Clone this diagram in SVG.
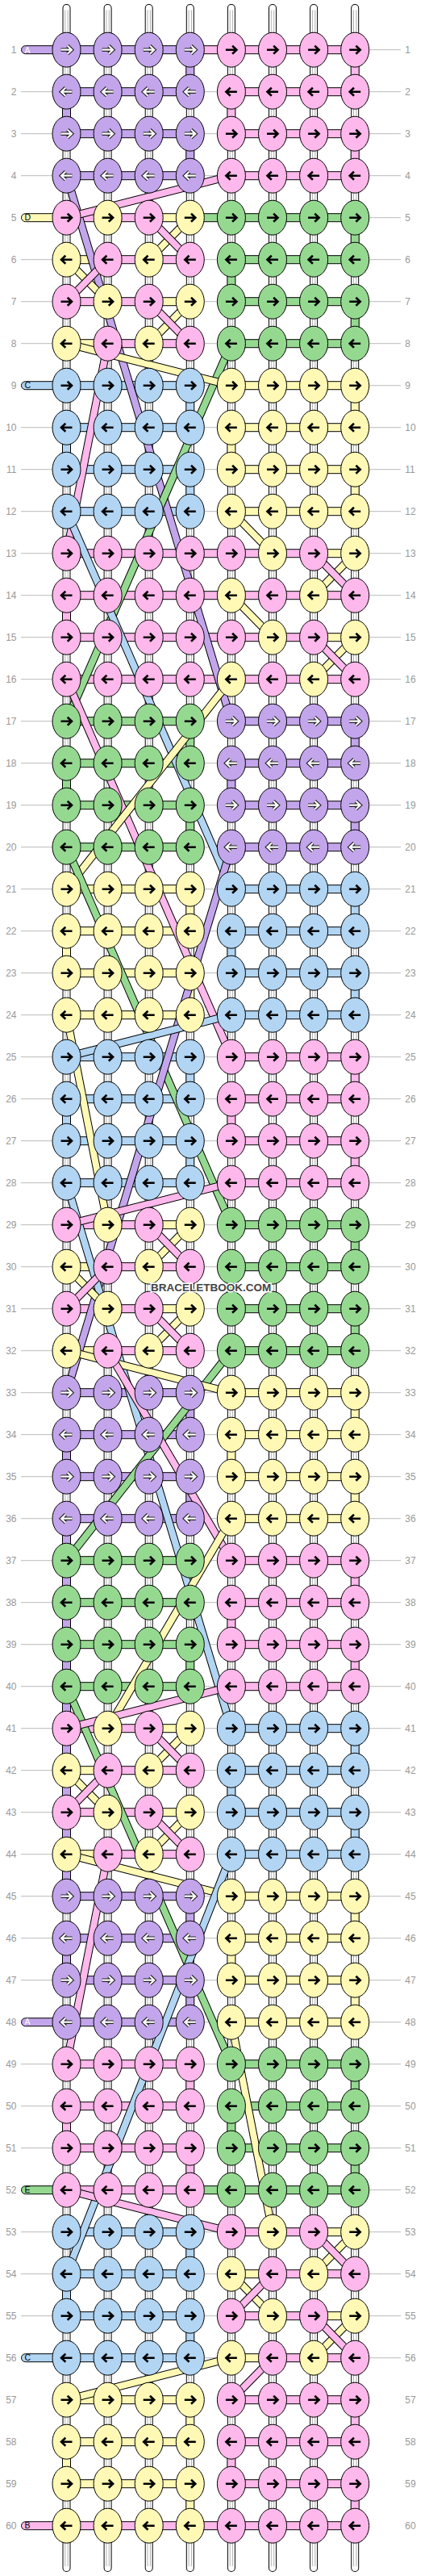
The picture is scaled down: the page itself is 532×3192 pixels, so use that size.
<svg xmlns="http://www.w3.org/2000/svg" width="532" height="3192" viewBox="0 0 532 3192">
<style>
.rl{fill:none;stroke:#bbb;stroke-width:1}
.n{font-family:"Liberation Sans",Arial,sans-serif;font-size:12px;fill:#999}
.nl{text-anchor:end}
.s0{fill:none;stroke:#000;stroke-width:10;stroke-linecap:round}
.s1{fill:none;stroke:#fff;stroke-width:8;stroke-linecap:round}
.s2{fill:none;stroke:#b0b0b0;stroke-width:4.4}
.s3{fill:none;stroke:#fff;stroke-width:2.4}
.c{stroke:#000;stroke-width:1}
.P{fill:#c3a5eb}.K{fill:#ffb8eb}.Y{fill:#fff9b5}.G{fill:#95d991}.B{fill:#b1d5f3}
.o{fill:none;stroke:#000;stroke-width:10}
.dP{fill:none;stroke:#c3a5eb;stroke-width:8}.dK{fill:none;stroke:#ffb8eb;stroke-width:8}.dY{fill:none;stroke:#fff9b5;stroke-width:8}.dG{fill:none;stroke:#95d991;stroke-width:8}.dB{fill:none;stroke:#b1d5f3;stroke-width:8}
.ab{fill:none;stroke:#000;stroke-width:2.6}
.aw0{fill:none;stroke:#222;stroke-width:4.4}
.aw1{fill:none;stroke:#fff;stroke-width:2.2}
.t{font-family:"Liberation Sans",Arial,sans-serif;font-size:10.5px}
.wm{font-family:"Liberation Sans",Arial,sans-serif;font-size:13.5px;font-weight:bold;fill:#444;stroke:#fff;stroke-width:3;paint-order:stroke;text-anchor:middle}
</style>
<defs>
<path id="ar" d="M-7,0H5.5M1.2,-5L6.5,0L1.2,5"/>
<path id="al" d="M7,0H-5.5M-1.2,-5L-6.5,0L-1.2,5"/>
<g id="PR"><ellipse class="c P" rx="17.5" ry="21.5"/><use href="#ar" class="aw0"/><use href="#ar" class="aw1"/></g>
<g id="PL"><ellipse class="c P" rx="17.5" ry="21.5"/><use href="#al" class="aw0"/><use href="#al" class="aw1"/></g>
<g id="KR"><ellipse class="c K" rx="17.5" ry="21.5"/><use href="#ar" class="ab"/></g>
<g id="KL"><ellipse class="c K" rx="17.5" ry="21.5"/><use href="#al" class="ab"/></g>
<g id="YR"><ellipse class="c Y" rx="17.5" ry="21.5"/><use href="#ar" class="ab"/></g>
<g id="YL"><ellipse class="c Y" rx="17.5" ry="21.5"/><use href="#al" class="ab"/></g>
<g id="GR"><ellipse class="c G" rx="17.5" ry="21.5"/><use href="#ar" class="ab"/></g>
<g id="GL"><ellipse class="c G" rx="17.5" ry="21.5"/><use href="#al" class="ab"/></g>
<g id="BR"><ellipse class="c B" rx="17.5" ry="21.5"/><use href="#ar" class="ab"/></g>
<g id="BL"><ellipse class="c B" rx="17.5" ry="21.5"/><use href="#al" class="ab"/></g>
</defs>
<rect width="532" height="3192" fill="#fff"/>
<g transform="translate(82.5 61.7)">
<path id="rowlines" class="rl" d="M-56.5,0h471m-471,52h471m-471,52h471m-471,52h471m-471,52h471m-471,52h471m-471,52h471m-471,52h471m-471,52h471m-471,52h471m-471,52h471m-471,52h471m-471,52h471m-471,52h471m-471,52h471m-471,52h471m-471,52h471m-471,52h471m-471,52h471m-471,52h471m-471,52h471m-471,52h471m-471,52h471m-471,52h471m-471,52h471m-471,52h471m-471,52h471m-471,52h471m-471,52h471m-471,52h471m-471,52h471m-471,52h471m-471,52h471m-471,52h471m-471,52h471m-471,52h471m-471,52h471m-471,52h471m-471,52h471m-471,52h471m-471,52h471m-471,52h471m-471,52h471m-471,52h471m-471,52h471m-471,52h471m-471,52h471m-471,52h471m-471,52h471m-471,52h471m-471,52h471m-471,52h471m-471,52h471m-471,52h471m-471,52h471m-471,52h471"/>
<g id="strands">
<path class="s0" d="M0,-51.7V3120.3M51.1,-51.7V3120.3M102.2,-51.7V3120.3M153.3,-51.7V3120.3M204.4,-51.7V3120.3M255.5,-51.7V3120.3M306.6,-51.7V3120.3M357.7,-51.7V3120.3"/>
<path class="s1" d="M0,-51.7V3120.3M51.1,-51.7V3120.3M102.2,-51.7V3120.3M153.3,-51.7V3120.3M204.4,-51.7V3120.3M255.5,-51.7V3120.3M306.6,-51.7V3120.3M357.7,-51.7V3120.3"/>
<path class="s2" d="M0,-49V3118M51.1,-49V3118M102.2,-49V3118M153.3,-49V3118M204.4,-49V3118M255.5,-49V3118M306.6,-49V3118M357.7,-49V3118"/>
<path class="s3" d="M0,-49V3118M51.1,-49V3118M102.2,-49V3118M153.3,-49V3118M204.4,-49V3118M255.5,-49V3118M306.6,-49V3118M357.7,-49V3118"/>
</g>
<g id="connectors">
<rect class="c P" x="-56" y="-5" width="209.3" height="10" rx="5"/><rect class="c K" x="153.3" y="-5" width="204.4" height="10"/>
<rect class="c P" x="0" y="47" width="153.3" height="10"/><rect class="c K" x="204.4" y="47" width="153.3" height="10"/>
<rect class="c P" x="0" y="99" width="153.3" height="10"/><rect class="c K" x="204.4" y="99" width="153.3" height="10"/>
<rect class="c P" x="0" y="151" width="153.3" height="10"/><rect class="c K" x="204.4" y="151" width="153.3" height="10"/>
<rect class="c Y" x="-56" y="203" width="56" height="10" rx="5"/><rect class="c K" x="0" y="203" width="102.2" height="10"/><rect class="c Y" x="102.2" y="203" width="51.1" height="10"/><rect class="c G" x="153.3" y="203" width="204.4" height="10"/>
<rect class="c Y" x="0" y="255" width="51.1" height="10"/><rect class="c K" x="51.1" y="255" width="102.2" height="10"/><rect class="c G" x="204.4" y="255" width="153.3" height="10"/>
<rect class="c K" x="0" y="307" width="102.2" height="10"/><rect class="c Y" x="102.2" y="307" width="51.1" height="10"/><rect class="c G" x="204.4" y="307" width="153.3" height="10"/>
<rect class="c Y" x="0" y="359" width="51.1" height="10"/><rect class="c K" x="51.1" y="359" width="102.2" height="10"/><rect class="c G" x="204.4" y="359" width="153.3" height="10"/>
<rect class="c B" x="-56" y="411" width="209.3" height="10" rx="5"/><rect class="c Y" x="204.4" y="411" width="153.3" height="10"/>
<rect class="c B" x="0" y="463" width="153.3" height="10"/><rect class="c Y" x="204.4" y="463" width="153.3" height="10"/>
<rect class="c B" x="0" y="515" width="153.3" height="10"/><rect class="c Y" x="204.4" y="515" width="153.3" height="10"/>
<rect class="c B" x="0" y="567" width="153.3" height="10"/><rect class="c Y" x="204.4" y="567" width="153.3" height="10"/>
<rect class="c K" x="0" y="619" width="306.6" height="10"/><rect class="c Y" x="306.6" y="619" width="51.1" height="10"/>
<rect class="c K" x="0" y="671" width="357.7" height="10"/>
<rect class="c K" x="0" y="723" width="306.6" height="10"/><rect class="c Y" x="306.6" y="723" width="51.1" height="10"/>
<rect class="c K" x="0" y="775" width="357.7" height="10"/>
<rect class="c G" x="0" y="827" width="153.3" height="10"/><rect class="c P" x="204.4" y="827" width="153.3" height="10"/>
<rect class="c G" x="0" y="879" width="153.3" height="10"/><rect class="c P" x="204.4" y="879" width="153.3" height="10"/>
<rect class="c G" x="0" y="931" width="153.3" height="10"/><rect class="c P" x="204.4" y="931" width="153.3" height="10"/>
<rect class="c G" x="0" y="983" width="153.3" height="10"/><rect class="c P" x="204.4" y="983" width="153.3" height="10"/>
<rect class="c Y" x="0" y="1035" width="153.3" height="10"/><rect class="c B" x="204.4" y="1035" width="153.3" height="10"/>
<rect class="c Y" x="0" y="1087" width="153.3" height="10"/><rect class="c B" x="204.4" y="1087" width="153.3" height="10"/>
<rect class="c Y" x="0" y="1139" width="153.3" height="10"/><rect class="c B" x="204.4" y="1139" width="153.3" height="10"/>
<rect class="c Y" x="0" y="1191" width="153.3" height="10"/><rect class="c B" x="204.4" y="1191" width="153.3" height="10"/>
<rect class="c B" x="0" y="1243" width="153.3" height="10"/><rect class="c K" x="204.4" y="1243" width="153.3" height="10"/>
<rect class="c B" x="0" y="1295" width="153.3" height="10"/><rect class="c K" x="204.4" y="1295" width="153.3" height="10"/>
<rect class="c B" x="0" y="1347" width="153.3" height="10"/><rect class="c K" x="204.4" y="1347" width="153.3" height="10"/>
<rect class="c B" x="0" y="1399" width="153.3" height="10"/><rect class="c K" x="204.4" y="1399" width="153.3" height="10"/>
<rect class="c K" x="0" y="1451" width="102.2" height="10"/><rect class="c Y" x="102.2" y="1451" width="51.1" height="10"/><rect class="c G" x="204.4" y="1451" width="153.3" height="10"/>
<rect class="c Y" x="0" y="1503" width="51.1" height="10"/><rect class="c K" x="51.1" y="1503" width="102.2" height="10"/><rect class="c G" x="204.4" y="1503" width="153.3" height="10"/>
<rect class="c K" x="0" y="1555" width="102.2" height="10"/><rect class="c Y" x="102.2" y="1555" width="51.1" height="10"/><rect class="c G" x="204.4" y="1555" width="153.3" height="10"/>
<rect class="c Y" x="0" y="1607" width="51.1" height="10"/><rect class="c K" x="51.1" y="1607" width="102.2" height="10"/><rect class="c G" x="204.4" y="1607" width="153.3" height="10"/>
<rect class="c P" x="0" y="1659" width="153.3" height="10"/><rect class="c Y" x="204.4" y="1659" width="153.3" height="10"/>
<rect class="c P" x="0" y="1711" width="153.3" height="10"/><rect class="c Y" x="204.4" y="1711" width="153.3" height="10"/>
<rect class="c P" x="0" y="1763" width="153.3" height="10"/><rect class="c Y" x="204.4" y="1763" width="153.3" height="10"/>
<rect class="c P" x="0" y="1815" width="153.3" height="10"/><rect class="c Y" x="204.4" y="1815" width="153.3" height="10"/>
<rect class="c G" x="0" y="1867" width="153.3" height="10"/><rect class="c K" x="204.4" y="1867" width="153.3" height="10"/>
<rect class="c G" x="0" y="1919" width="153.3" height="10"/><rect class="c K" x="204.4" y="1919" width="153.3" height="10"/>
<rect class="c G" x="0" y="1971" width="153.3" height="10"/><rect class="c K" x="204.4" y="1971" width="153.3" height="10"/>
<rect class="c G" x="0" y="2023" width="153.3" height="10"/><rect class="c K" x="204.4" y="2023" width="153.3" height="10"/>
<rect class="c K" x="0" y="2075" width="102.2" height="10"/><rect class="c Y" x="102.2" y="2075" width="51.1" height="10"/><rect class="c B" x="204.4" y="2075" width="153.3" height="10"/>
<rect class="c Y" x="0" y="2127" width="51.1" height="10"/><rect class="c K" x="51.1" y="2127" width="102.2" height="10"/><rect class="c B" x="204.4" y="2127" width="153.3" height="10"/>
<rect class="c K" x="0" y="2179" width="102.2" height="10"/><rect class="c Y" x="102.2" y="2179" width="51.1" height="10"/><rect class="c B" x="204.4" y="2179" width="153.3" height="10"/>
<rect class="c Y" x="0" y="2231" width="51.1" height="10"/><rect class="c K" x="51.1" y="2231" width="102.2" height="10"/><rect class="c B" x="204.4" y="2231" width="153.3" height="10"/>
<rect class="c P" x="0" y="2283" width="153.3" height="10"/><rect class="c Y" x="204.4" y="2283" width="153.3" height="10"/>
<rect class="c P" x="0" y="2335" width="153.3" height="10"/><rect class="c Y" x="204.4" y="2335" width="153.3" height="10"/>
<rect class="c P" x="0" y="2387" width="153.3" height="10"/><rect class="c Y" x="204.4" y="2387" width="153.3" height="10"/>
<rect class="c P" x="-56" y="2439" width="209.3" height="10" rx="5"/><rect class="c Y" x="204.4" y="2439" width="153.3" height="10"/>
<rect class="c K" x="0" y="2491" width="153.3" height="10"/><rect class="c G" x="204.4" y="2491" width="153.3" height="10"/>
<rect class="c K" x="0" y="2543" width="153.3" height="10"/><rect class="c G" x="204.4" y="2543" width="153.3" height="10"/>
<rect class="c K" x="0" y="2595" width="153.3" height="10"/><rect class="c G" x="204.4" y="2595" width="153.3" height="10"/>
<rect class="c G" x="-56" y="2647" width="56" height="10" rx="5"/><rect class="c K" x="0" y="2647" width="153.3" height="10"/><rect class="c G" x="153.3" y="2647" width="204.4" height="10"/>
<rect class="c B" x="0" y="2699" width="153.3" height="10"/><rect class="c K" x="204.4" y="2699" width="102.2" height="10"/><rect class="c Y" x="306.6" y="2699" width="51.1" height="10"/>
<rect class="c B" x="0" y="2751" width="153.3" height="10"/><rect class="c Y" x="204.4" y="2751" width="51.1" height="10"/><rect class="c K" x="255.5" y="2751" width="102.2" height="10"/>
<rect class="c B" x="0" y="2803" width="153.3" height="10"/><rect class="c K" x="204.4" y="2803" width="102.2" height="10"/><rect class="c Y" x="306.6" y="2803" width="51.1" height="10"/>
<rect class="c B" x="-56" y="2855" width="209.3" height="10" rx="5"/><rect class="c Y" x="204.4" y="2855" width="51.1" height="10"/><rect class="c K" x="255.5" y="2855" width="102.2" height="10"/>
<rect class="c Y" x="0" y="2907" width="153.3" height="10"/><rect class="c K" x="204.4" y="2907" width="153.3" height="10"/>
<rect class="c Y" x="0" y="2959" width="153.3" height="10"/><rect class="c K" x="204.4" y="2959" width="153.3" height="10"/>
<rect class="c Y" x="0" y="3011" width="153.3" height="10"/><rect class="c K" x="204.4" y="3011" width="153.3" height="10"/>
<rect class="c K" x="-56" y="3063" width="413.7" height="10" rx="5"/>
<rect class="c P" x="148.3" y="0" width="10" height="52"/><rect class="c P" x="-5" y="52" width="10" height="52"/><rect class="c P" x="148.3" y="104" width="10" height="52"/>
<rect class="c K" x="352.7" y="0" width="10" height="52"/><rect class="c K" x="199.4" y="52" width="10" height="52"/><rect class="c K" x="352.7" y="104" width="10" height="52"/>
<rect class="c G" x="352.7" y="208" width="10" height="52"/><rect class="c G" x="199.4" y="260" width="10" height="52"/><rect class="c G" x="352.7" y="312" width="10" height="52"/>
<rect class="c B" x="148.3" y="416" width="10" height="52"/><rect class="c B" x="-5" y="468" width="10" height="52"/><rect class="c B" x="148.3" y="520" width="10" height="52"/>
<rect class="c Y" x="352.7" y="416" width="10" height="52"/><rect class="c Y" x="199.4" y="468" width="10" height="52"/><rect class="c Y" x="352.7" y="520" width="10" height="52"/>
<rect class="c K" x="-5" y="676" width="10" height="52"/>
<rect class="c G" x="148.3" y="832" width="10" height="52"/><rect class="c G" x="-5" y="884" width="10" height="52"/><rect class="c G" x="148.3" y="936" width="10" height="52"/>
<rect class="c P" x="352.7" y="832" width="10" height="52"/><rect class="c P" x="199.4" y="884" width="10" height="52"/><rect class="c P" x="352.7" y="936" width="10" height="52"/>
<rect class="c Y" x="148.3" y="1040" width="10" height="52"/><rect class="c Y" x="-5" y="1092" width="10" height="52"/><rect class="c Y" x="148.3" y="1144" width="10" height="52"/>
<rect class="c B" x="352.7" y="1040" width="10" height="52"/><rect class="c B" x="199.4" y="1092" width="10" height="52"/><rect class="c B" x="352.7" y="1144" width="10" height="52"/>
<rect class="c B" x="148.3" y="1248" width="10" height="52"/><rect class="c B" x="-5" y="1300" width="10" height="52"/><rect class="c B" x="148.3" y="1352" width="10" height="52"/>
<rect class="c K" x="352.7" y="1248" width="10" height="52"/><rect class="c K" x="199.4" y="1300" width="10" height="52"/><rect class="c K" x="352.7" y="1352" width="10" height="52"/>
<rect class="c G" x="352.7" y="1456" width="10" height="52"/><rect class="c G" x="199.4" y="1508" width="10" height="52"/><rect class="c G" x="352.7" y="1560" width="10" height="52"/>
<rect class="c P" x="148.3" y="1664" width="10" height="52"/><rect class="c P" x="-5" y="1716" width="10" height="52"/><rect class="c P" x="148.3" y="1768" width="10" height="52"/>
<rect class="c Y" x="352.7" y="1664" width="10" height="52"/><rect class="c Y" x="199.4" y="1716" width="10" height="52"/><rect class="c Y" x="352.7" y="1768" width="10" height="52"/>
<rect class="c P" x="-5" y="1820" width="10" height="468"/>
<rect class="c G" x="148.3" y="1872" width="10" height="52"/><rect class="c G" x="148.3" y="1976" width="10" height="52"/>
<rect class="c K" x="352.7" y="1872" width="10" height="52"/><rect class="c K" x="199.4" y="1924" width="10" height="52"/><rect class="c K" x="352.7" y="1976" width="10" height="52"/>
<rect class="c B" x="352.7" y="2080" width="10" height="52"/><rect class="c B" x="199.4" y="2132" width="10" height="52"/><rect class="c B" x="352.7" y="2184" width="10" height="52"/>
<rect class="c P" x="148.3" y="2288" width="10" height="52"/><rect class="c P" x="-5" y="2340" width="10" height="52"/><rect class="c P" x="148.3" y="2392" width="10" height="52"/>
<rect class="c Y" x="352.7" y="2288" width="10" height="52"/><rect class="c Y" x="199.4" y="2340" width="10" height="52"/><rect class="c Y" x="352.7" y="2392" width="10" height="52"/>
<rect class="c K" x="148.3" y="2496" width="10" height="52"/><rect class="c K" x="-5" y="2548" width="10" height="52"/><rect class="c K" x="148.3" y="2600" width="10" height="52"/>
<rect class="c G" x="352.7" y="2496" width="10" height="52"/><rect class="c G" x="199.4" y="2548" width="10" height="52"/><rect class="c G" x="352.7" y="2600" width="10" height="52"/>
<rect class="c B" x="148.3" y="2704" width="10" height="52"/><rect class="c B" x="-5" y="2756" width="10" height="52"/><rect class="c B" x="148.3" y="2808" width="10" height="52"/>
<rect class="c Y" x="148.3" y="2912" width="10" height="52"/><rect class="c Y" x="-5" y="2964" width="10" height="52"/><rect class="c Y" x="148.3" y="3016" width="10" height="52"/>
<rect class="c K" x="352.7" y="2912" width="10" height="52"/><rect class="c K" x="199.4" y="2964" width="10" height="52"/><rect class="c K" x="352.7" y="3016" width="10" height="52"/>
<path class="o" d="M0,156L204.4,832"/><path class="dP" d="M0,156L204.4,832"/>
<path class="o" d="M204.4,156L0,208"/><path class="dK" d="M204.4,156L0,208"/>
<path class="o" d="M204.4,364L0,832"/><path class="dG" d="M204.4,364L0,832"/>
<path class="o" d="M0,364L204.4,416"/><path class="dY" d="M0,364L204.4,416"/>
<path class="o" d="M51.1,364L0,624"/><path class="dK" d="M51.1,364L0,624"/>
<path class="o" d="M0,572L204.4,1040"/><path class="dB" d="M0,572L204.4,1040"/>
<path class="o" d="M204.4,572L255.5,624"/><path class="dY" d="M204.4,572L255.5,624"/>
<path class="o" d="M0,780L204.4,1248"/><path class="dK" d="M0,780L204.4,1248"/>
<path class="o" d="M204.4,780L0,1040"/><path class="dY" d="M204.4,780L0,1040"/>
<path class="o" d="M0,988L204.4,1456"/><path class="dG" d="M0,988L204.4,1456"/>
<path class="o" d="M204.4,988L0,1664"/><path class="dP" d="M204.4,988L0,1664"/>
<path class="o" d="M0,1196L51.1,1456"/><path class="dY" d="M0,1196L51.1,1456"/>
<path class="o" d="M204.4,1196L0,1248"/><path class="dB" d="M204.4,1196L0,1248"/>
<path class="o" d="M0,1404L204.4,2080"/><path class="dB" d="M0,1404L204.4,2080"/>
<path class="o" d="M204.4,1404L0,1456"/><path class="dK" d="M204.4,1404L0,1456"/>
<path class="o" d="M204.4,1612L0,1872"/><path class="dG" d="M204.4,1612L0,1872"/>
<path class="o" d="M0,1612L204.4,1664"/><path class="dY" d="M0,1612L204.4,1664"/>
<path class="o" d="M51.1,1612L204.4,1872"/><path class="dK" d="M51.1,1612L204.4,1872"/>
<path class="o" d="M204.4,1820L51.1,2080"/><path class="dY" d="M204.4,1820L51.1,2080"/>
<path class="o" d="M0,2028L204.4,2496"/><path class="dG" d="M0,2028L204.4,2496"/>
<path class="o" d="M204.4,2028L0,2080"/><path class="dK" d="M204.4,2028L0,2080"/>
<path class="o" d="M0,2236L204.4,2288"/><path class="dY" d="M0,2236L204.4,2288"/>
<path class="o" d="M51.1,2236L0,2496"/><path class="dK" d="M51.1,2236L0,2496"/>
<path class="o" d="M204.4,2236L0,2756"/><path class="dB" d="M204.4,2236L0,2756"/>
<path class="o" d="M204.4,2444L255.5,2704"/><path class="dY" d="M204.4,2444L255.5,2704"/>
<path class="o" d="M0,2652L204.4,2704"/><path class="dK" d="M0,2652L204.4,2704"/>
<path class="o" d="M204.4,2860L0,2912"/><path class="dY" d="M204.4,2860L0,2912"/>
<path class="o" d="M255.5,2860L204.4,2912"/><path class="dK" d="M255.5,2860L204.4,2912"/>
<path class="o" d="M153.3,208L102.2,260"/><path class="dY" d="M153.3,208L102.2,260"/><path class="o" d="M102.2,208L153.3,260"/><path class="dK" d="M102.2,208L153.3,260"/>
<path class="o" d="M0,260L51.1,312"/><path class="dY" d="M0,260L51.1,312"/><path class="o" d="M51.1,260L0,312"/><path class="dK" d="M51.1,260L0,312"/>
<path class="o" d="M153.3,312L102.2,364"/><path class="dY" d="M153.3,312L102.2,364"/><path class="o" d="M102.2,312L153.3,364"/><path class="dK" d="M102.2,312L153.3,364"/>
<path class="o" d="M153.3,1456L102.2,1508"/><path class="dY" d="M153.3,1456L102.2,1508"/><path class="o" d="M102.2,1456L153.3,1508"/><path class="dK" d="M102.2,1456L153.3,1508"/>
<path class="o" d="M0,1508L51.1,1560"/><path class="dY" d="M0,1508L51.1,1560"/><path class="o" d="M51.1,1508L0,1560"/><path class="dK" d="M51.1,1508L0,1560"/>
<path class="o" d="M153.3,1560L102.2,1612"/><path class="dY" d="M153.3,1560L102.2,1612"/><path class="o" d="M102.2,1560L153.3,1612"/><path class="dK" d="M102.2,1560L153.3,1612"/>
<path class="o" d="M153.3,2080L102.2,2132"/><path class="dY" d="M153.3,2080L102.2,2132"/><path class="o" d="M102.2,2080L153.3,2132"/><path class="dK" d="M102.2,2080L153.3,2132"/>
<path class="o" d="M0,2132L51.1,2184"/><path class="dY" d="M0,2132L51.1,2184"/><path class="o" d="M51.1,2132L0,2184"/><path class="dK" d="M51.1,2132L0,2184"/>
<path class="o" d="M153.3,2184L102.2,2236"/><path class="dY" d="M153.3,2184L102.2,2236"/><path class="o" d="M102.2,2184L153.3,2236"/><path class="dK" d="M102.2,2184L153.3,2236"/>
<path class="o" d="M357.7,624L306.6,676"/><path class="dY" d="M357.7,624L306.6,676"/><path class="o" d="M306.6,624L357.7,676"/><path class="dK" d="M306.6,624L357.7,676"/>
<path class="o" d="M204.4,676L255.5,728"/><path class="dY" d="M204.4,676L255.5,728"/>
<path class="o" d="M357.7,728L306.6,780"/><path class="dY" d="M357.7,728L306.6,780"/><path class="o" d="M306.6,728L357.7,780"/><path class="dK" d="M306.6,728L357.7,780"/>
<path class="o" d="M357.7,2704L306.6,2756"/><path class="dY" d="M357.7,2704L306.6,2756"/><path class="o" d="M306.6,2704L357.7,2756"/><path class="dK" d="M306.6,2704L357.7,2756"/>
<path class="o" d="M204.4,2756L255.5,2808"/><path class="dY" d="M204.4,2756L255.5,2808"/><path class="o" d="M255.5,2756L204.4,2808"/><path class="dK" d="M255.5,2756L204.4,2808"/>
<path class="o" d="M357.7,2808L306.6,2860"/><path class="dY" d="M357.7,2808L306.6,2860"/><path class="o" d="M306.6,2808L357.7,2860"/><path class="dK" d="M306.6,2808L357.7,2860"/>
</g>
<g id="nodes">
<g id="r1"><use id="n1-1" href="#PR"/><use id="n1-2" href="#PR" x="51.1"/><use id="n1-3" href="#PR" x="102.2"/><use id="n1-4" href="#PR" x="153.3"/><use id="n1-5" href="#KR" x="204.4"/><use id="n1-6" href="#KR" x="255.5"/><use id="n1-7" href="#KR" x="306.6"/><use id="n1-8" href="#KR" x="357.7"/></g>
<g id="r2" transform="translate(0,52)"><use id="n2-1" href="#PL"/><use id="n2-2" href="#PL" x="51.1"/><use id="n2-3" href="#PL" x="102.2"/><use id="n2-4" href="#PL" x="153.3"/><use id="n2-5" href="#KL" x="204.4"/><use id="n2-6" href="#KL" x="255.5"/><use id="n2-7" href="#KL" x="306.6"/><use id="n2-8" href="#KL" x="357.7"/></g>
<g id="r3" transform="translate(0,104)"><use id="n3-1" href="#PR"/><use id="n3-2" href="#PR" x="51.1"/><use id="n3-3" href="#PR" x="102.2"/><use id="n3-4" href="#PR" x="153.3"/><use id="n3-5" href="#KR" x="204.4"/><use id="n3-6" href="#KR" x="255.5"/><use id="n3-7" href="#KR" x="306.6"/><use id="n3-8" href="#KR" x="357.7"/></g>
<g id="r4" transform="translate(0,156)"><use id="n4-1" href="#PL"/><use id="n4-2" href="#PL" x="51.1"/><use id="n4-3" href="#PL" x="102.2"/><use id="n4-4" href="#PL" x="153.3"/><use id="n4-5" href="#KL" x="204.4"/><use id="n4-6" href="#KL" x="255.5"/><use id="n4-7" href="#KL" x="306.6"/><use id="n4-8" href="#KL" x="357.7"/></g>
<g id="r5" transform="translate(0,208)"><use id="n5-1" href="#KR"/><use id="n5-2" href="#YR" x="51.1"/><use id="n5-3" href="#KR" x="102.2"/><use id="n5-4" href="#YR" x="153.3"/><use id="n5-5" href="#GR" x="204.4"/><use id="n5-6" href="#GR" x="255.5"/><use id="n5-7" href="#GR" x="306.6"/><use id="n5-8" href="#GR" x="357.7"/></g>
<g id="r6" transform="translate(0,260)"><use id="n6-1" href="#YL"/><use id="n6-2" href="#KL" x="51.1"/><use id="n6-3" href="#YL" x="102.2"/><use id="n6-4" href="#KL" x="153.3"/><use id="n6-5" href="#GL" x="204.4"/><use id="n6-6" href="#GL" x="255.5"/><use id="n6-7" href="#GL" x="306.6"/><use id="n6-8" href="#GL" x="357.7"/></g>
<g id="r7" transform="translate(0,312)"><use id="n7-1" href="#KR"/><use id="n7-2" href="#YR" x="51.1"/><use id="n7-3" href="#KR" x="102.2"/><use id="n7-4" href="#YR" x="153.3"/><use id="n7-5" href="#GR" x="204.4"/><use id="n7-6" href="#GR" x="255.5"/><use id="n7-7" href="#GR" x="306.6"/><use id="n7-8" href="#GR" x="357.7"/></g>
<g id="r8" transform="translate(0,364)"><use id="n8-1" href="#YL"/><use id="n8-2" href="#KL" x="51.1"/><use id="n8-3" href="#YL" x="102.2"/><use id="n8-4" href="#KL" x="153.3"/><use id="n8-5" href="#GL" x="204.4"/><use id="n8-6" href="#GL" x="255.5"/><use id="n8-7" href="#GL" x="306.6"/><use id="n8-8" href="#GL" x="357.7"/></g>
<g id="r9" transform="translate(0,416)"><use id="n9-1" href="#BR"/><use id="n9-2" href="#BR" x="51.1"/><use id="n9-3" href="#BR" x="102.2"/><use id="n9-4" href="#BR" x="153.3"/><use id="n9-5" href="#YR" x="204.4"/><use id="n9-6" href="#YR" x="255.5"/><use id="n9-7" href="#YR" x="306.6"/><use id="n9-8" href="#YR" x="357.7"/></g>
<g id="r10" transform="translate(0,468)"><use id="n10-1" href="#BL"/><use id="n10-2" href="#BL" x="51.1"/><use id="n10-3" href="#BL" x="102.2"/><use id="n10-4" href="#BL" x="153.3"/><use id="n10-5" href="#YL" x="204.4"/><use id="n10-6" href="#YL" x="255.5"/><use id="n10-7" href="#YL" x="306.6"/><use id="n10-8" href="#YL" x="357.7"/></g>
<g id="r11" transform="translate(0,520)"><use id="n11-1" href="#BR"/><use id="n11-2" href="#BR" x="51.1"/><use id="n11-3" href="#BR" x="102.2"/><use id="n11-4" href="#BR" x="153.3"/><use id="n11-5" href="#YR" x="204.4"/><use id="n11-6" href="#YR" x="255.5"/><use id="n11-7" href="#YR" x="306.6"/><use id="n11-8" href="#YR" x="357.7"/></g>
<g id="r12" transform="translate(0,572)"><use id="n12-1" href="#BL"/><use id="n12-2" href="#BL" x="51.1"/><use id="n12-3" href="#BL" x="102.2"/><use id="n12-4" href="#BL" x="153.3"/><use id="n12-5" href="#YL" x="204.4"/><use id="n12-6" href="#YL" x="255.5"/><use id="n12-7" href="#YL" x="306.6"/><use id="n12-8" href="#YL" x="357.7"/></g>
<g id="r13" transform="translate(0,624)"><use id="n13-1" href="#KR"/><use id="n13-2" href="#KR" x="51.1"/><use id="n13-3" href="#KR" x="102.2"/><use id="n13-4" href="#KR" x="153.3"/><use id="n13-5" href="#KR" x="204.4"/><use id="n13-6" href="#YR" x="255.5"/><use id="n13-7" href="#KR" x="306.6"/><use id="n13-8" href="#YR" x="357.7"/></g>
<g id="r14" transform="translate(0,676)"><use id="n14-1" href="#KL"/><use id="n14-2" href="#KL" x="51.1"/><use id="n14-3" href="#KL" x="102.2"/><use id="n14-4" href="#KL" x="153.3"/><use id="n14-5" href="#YL" x="204.4"/><use id="n14-6" href="#KL" x="255.5"/><use id="n14-7" href="#YL" x="306.6"/><use id="n14-8" href="#KL" x="357.7"/></g>
<g id="r15" transform="translate(0,728)"><use id="n15-1" href="#KR"/><use id="n15-2" href="#KR" x="51.1"/><use id="n15-3" href="#KR" x="102.2"/><use id="n15-4" href="#KR" x="153.3"/><use id="n15-5" href="#KR" x="204.4"/><use id="n15-6" href="#YR" x="255.5"/><use id="n15-7" href="#KR" x="306.6"/><use id="n15-8" href="#YR" x="357.7"/></g>
<g id="r16" transform="translate(0,780)"><use id="n16-1" href="#KL"/><use id="n16-2" href="#KL" x="51.1"/><use id="n16-3" href="#KL" x="102.2"/><use id="n16-4" href="#KL" x="153.3"/><use id="n16-5" href="#YL" x="204.4"/><use id="n16-6" href="#KL" x="255.5"/><use id="n16-7" href="#YL" x="306.6"/><use id="n16-8" href="#KL" x="357.7"/></g>
<g id="r17" transform="translate(0,832)"><use id="n17-1" href="#GR"/><use id="n17-2" href="#GR" x="51.1"/><use id="n17-3" href="#GR" x="102.2"/><use id="n17-4" href="#GR" x="153.3"/><use id="n17-5" href="#PR" x="204.4"/><use id="n17-6" href="#PR" x="255.5"/><use id="n17-7" href="#PR" x="306.6"/><use id="n17-8" href="#PR" x="357.7"/></g>
<g id="r18" transform="translate(0,884)"><use id="n18-1" href="#GL"/><use id="n18-2" href="#GL" x="51.1"/><use id="n18-3" href="#GL" x="102.2"/><use id="n18-4" href="#GL" x="153.3"/><use id="n18-5" href="#PL" x="204.4"/><use id="n18-6" href="#PL" x="255.5"/><use id="n18-7" href="#PL" x="306.6"/><use id="n18-8" href="#PL" x="357.7"/></g>
<g id="r19" transform="translate(0,936)"><use id="n19-1" href="#GR"/><use id="n19-2" href="#GR" x="51.1"/><use id="n19-3" href="#GR" x="102.2"/><use id="n19-4" href="#GR" x="153.3"/><use id="n19-5" href="#PR" x="204.4"/><use id="n19-6" href="#PR" x="255.5"/><use id="n19-7" href="#PR" x="306.6"/><use id="n19-8" href="#PR" x="357.7"/></g>
<g id="r20" transform="translate(0,988)"><use id="n20-1" href="#GL"/><use id="n20-2" href="#GL" x="51.1"/><use id="n20-3" href="#GL" x="102.2"/><use id="n20-4" href="#GL" x="153.3"/><use id="n20-5" href="#PL" x="204.4"/><use id="n20-6" href="#PL" x="255.5"/><use id="n20-7" href="#PL" x="306.6"/><use id="n20-8" href="#PL" x="357.7"/></g>
<g id="r21" transform="translate(0,1040)"><use id="n21-1" href="#YR"/><use id="n21-2" href="#YR" x="51.1"/><use id="n21-3" href="#YR" x="102.2"/><use id="n21-4" href="#YR" x="153.3"/><use id="n21-5" href="#BR" x="204.4"/><use id="n21-6" href="#BR" x="255.5"/><use id="n21-7" href="#BR" x="306.6"/><use id="n21-8" href="#BR" x="357.7"/></g>
<g id="r22" transform="translate(0,1092)"><use id="n22-1" href="#YL"/><use id="n22-2" href="#YL" x="51.1"/><use id="n22-3" href="#YL" x="102.2"/><use id="n22-4" href="#YL" x="153.3"/><use id="n22-5" href="#BL" x="204.4"/><use id="n22-6" href="#BL" x="255.5"/><use id="n22-7" href="#BL" x="306.6"/><use id="n22-8" href="#BL" x="357.7"/></g>
<g id="r23" transform="translate(0,1144)"><use id="n23-1" href="#YR"/><use id="n23-2" href="#YR" x="51.1"/><use id="n23-3" href="#YR" x="102.2"/><use id="n23-4" href="#YR" x="153.3"/><use id="n23-5" href="#BR" x="204.4"/><use id="n23-6" href="#BR" x="255.5"/><use id="n23-7" href="#BR" x="306.6"/><use id="n23-8" href="#BR" x="357.7"/></g>
<g id="r24" transform="translate(0,1196)"><use id="n24-1" href="#YL"/><use id="n24-2" href="#YL" x="51.1"/><use id="n24-3" href="#YL" x="102.2"/><use id="n24-4" href="#YL" x="153.3"/><use id="n24-5" href="#BL" x="204.4"/><use id="n24-6" href="#BL" x="255.5"/><use id="n24-7" href="#BL" x="306.6"/><use id="n24-8" href="#BL" x="357.7"/></g>
<g id="r25" transform="translate(0,1248)"><use id="n25-1" href="#BR"/><use id="n25-2" href="#BR" x="51.1"/><use id="n25-3" href="#BR" x="102.2"/><use id="n25-4" href="#BR" x="153.3"/><use id="n25-5" href="#KR" x="204.4"/><use id="n25-6" href="#KR" x="255.5"/><use id="n25-7" href="#KR" x="306.6"/><use id="n25-8" href="#KR" x="357.7"/></g>
<g id="r26" transform="translate(0,1300)"><use id="n26-1" href="#BL"/><use id="n26-2" href="#BL" x="51.1"/><use id="n26-3" href="#BL" x="102.2"/><use id="n26-4" href="#BL" x="153.3"/><use id="n26-5" href="#KL" x="204.4"/><use id="n26-6" href="#KL" x="255.5"/><use id="n26-7" href="#KL" x="306.6"/><use id="n26-8" href="#KL" x="357.7"/></g>
<g id="r27" transform="translate(0,1352)"><use id="n27-1" href="#BR"/><use id="n27-2" href="#BR" x="51.1"/><use id="n27-3" href="#BR" x="102.2"/><use id="n27-4" href="#BR" x="153.3"/><use id="n27-5" href="#KR" x="204.4"/><use id="n27-6" href="#KR" x="255.5"/><use id="n27-7" href="#KR" x="306.6"/><use id="n27-8" href="#KR" x="357.7"/></g>
<g id="r28" transform="translate(0,1404)"><use id="n28-1" href="#BL"/><use id="n28-2" href="#BL" x="51.1"/><use id="n28-3" href="#BL" x="102.2"/><use id="n28-4" href="#BL" x="153.3"/><use id="n28-5" href="#KL" x="204.4"/><use id="n28-6" href="#KL" x="255.5"/><use id="n28-7" href="#KL" x="306.6"/><use id="n28-8" href="#KL" x="357.7"/></g>
<g id="r29" transform="translate(0,1456)"><use id="n29-1" href="#KR"/><use id="n29-2" href="#YR" x="51.1"/><use id="n29-3" href="#KR" x="102.2"/><use id="n29-4" href="#YR" x="153.3"/><use id="n29-5" href="#GR" x="204.4"/><use id="n29-6" href="#GR" x="255.5"/><use id="n29-7" href="#GR" x="306.6"/><use id="n29-8" href="#GR" x="357.7"/></g>
<g id="r30" transform="translate(0,1508)"><use id="n30-1" href="#YL"/><use id="n30-2" href="#KL" x="51.1"/><use id="n30-3" href="#YL" x="102.2"/><use id="n30-4" href="#KL" x="153.3"/><use id="n30-5" href="#GL" x="204.4"/><use id="n30-6" href="#GL" x="255.5"/><use id="n30-7" href="#GL" x="306.6"/><use id="n30-8" href="#GL" x="357.7"/></g>
<g id="r31" transform="translate(0,1560)"><use id="n31-1" href="#KR"/><use id="n31-2" href="#YR" x="51.1"/><use id="n31-3" href="#KR" x="102.2"/><use id="n31-4" href="#YR" x="153.3"/><use id="n31-5" href="#GR" x="204.4"/><use id="n31-6" href="#GR" x="255.5"/><use id="n31-7" href="#GR" x="306.6"/><use id="n31-8" href="#GR" x="357.7"/></g>
<g id="r32" transform="translate(0,1612)"><use id="n32-1" href="#YL"/><use id="n32-2" href="#KL" x="51.1"/><use id="n32-3" href="#YL" x="102.2"/><use id="n32-4" href="#KL" x="153.3"/><use id="n32-5" href="#GL" x="204.4"/><use id="n32-6" href="#GL" x="255.5"/><use id="n32-7" href="#GL" x="306.6"/><use id="n32-8" href="#GL" x="357.7"/></g>
<g id="r33" transform="translate(0,1664)"><use id="n33-1" href="#PR"/><use id="n33-2" href="#PR" x="51.1"/><use id="n33-3" href="#PR" x="102.2"/><use id="n33-4" href="#PR" x="153.3"/><use id="n33-5" href="#YR" x="204.4"/><use id="n33-6" href="#YR" x="255.5"/><use id="n33-7" href="#YR" x="306.6"/><use id="n33-8" href="#YR" x="357.7"/></g>
<g id="r34" transform="translate(0,1716)"><use id="n34-1" href="#PL"/><use id="n34-2" href="#PL" x="51.1"/><use id="n34-3" href="#PL" x="102.2"/><use id="n34-4" href="#PL" x="153.3"/><use id="n34-5" href="#YL" x="204.4"/><use id="n34-6" href="#YL" x="255.5"/><use id="n34-7" href="#YL" x="306.6"/><use id="n34-8" href="#YL" x="357.7"/></g>
<g id="r35" transform="translate(0,1768)"><use id="n35-1" href="#PR"/><use id="n35-2" href="#PR" x="51.1"/><use id="n35-3" href="#PR" x="102.2"/><use id="n35-4" href="#PR" x="153.3"/><use id="n35-5" href="#YR" x="204.4"/><use id="n35-6" href="#YR" x="255.5"/><use id="n35-7" href="#YR" x="306.6"/><use id="n35-8" href="#YR" x="357.7"/></g>
<g id="r36" transform="translate(0,1820)"><use id="n36-1" href="#PL"/><use id="n36-2" href="#PL" x="51.1"/><use id="n36-3" href="#PL" x="102.2"/><use id="n36-4" href="#PL" x="153.3"/><use id="n36-5" href="#YL" x="204.4"/><use id="n36-6" href="#YL" x="255.5"/><use id="n36-7" href="#YL" x="306.6"/><use id="n36-8" href="#YL" x="357.7"/></g>
<g id="r37" transform="translate(0,1872)"><use id="n37-1" href="#GR"/><use id="n37-2" href="#GR" x="51.1"/><use id="n37-3" href="#GR" x="102.2"/><use id="n37-4" href="#GR" x="153.3"/><use id="n37-5" href="#KR" x="204.4"/><use id="n37-6" href="#KR" x="255.5"/><use id="n37-7" href="#KR" x="306.6"/><use id="n37-8" href="#KR" x="357.7"/></g>
<g id="r38" transform="translate(0,1924)"><use id="n38-1" href="#GL"/><use id="n38-2" href="#GL" x="51.1"/><use id="n38-3" href="#GL" x="102.2"/><use id="n38-4" href="#GL" x="153.3"/><use id="n38-5" href="#KL" x="204.4"/><use id="n38-6" href="#KL" x="255.5"/><use id="n38-7" href="#KL" x="306.6"/><use id="n38-8" href="#KL" x="357.7"/></g>
<g id="r39" transform="translate(0,1976)"><use id="n39-1" href="#GR"/><use id="n39-2" href="#GR" x="51.1"/><use id="n39-3" href="#GR" x="102.2"/><use id="n39-4" href="#GR" x="153.3"/><use id="n39-5" href="#KR" x="204.4"/><use id="n39-6" href="#KR" x="255.5"/><use id="n39-7" href="#KR" x="306.6"/><use id="n39-8" href="#KR" x="357.7"/></g>
<g id="r40" transform="translate(0,2028)"><use id="n40-1" href="#GL"/><use id="n40-2" href="#GL" x="51.1"/><use id="n40-3" href="#GL" x="102.2"/><use id="n40-4" href="#GL" x="153.3"/><use id="n40-5" href="#KL" x="204.4"/><use id="n40-6" href="#KL" x="255.5"/><use id="n40-7" href="#KL" x="306.6"/><use id="n40-8" href="#KL" x="357.7"/></g>
<g id="r41" transform="translate(0,2080)"><use id="n41-1" href="#KR"/><use id="n41-2" href="#YR" x="51.1"/><use id="n41-3" href="#KR" x="102.2"/><use id="n41-4" href="#YR" x="153.3"/><use id="n41-5" href="#BR" x="204.4"/><use id="n41-6" href="#BR" x="255.5"/><use id="n41-7" href="#BR" x="306.6"/><use id="n41-8" href="#BR" x="357.7"/></g>
<g id="r42" transform="translate(0,2132)"><use id="n42-1" href="#YL"/><use id="n42-2" href="#KL" x="51.1"/><use id="n42-3" href="#YL" x="102.2"/><use id="n42-4" href="#KL" x="153.3"/><use id="n42-5" href="#BL" x="204.4"/><use id="n42-6" href="#BL" x="255.5"/><use id="n42-7" href="#BL" x="306.6"/><use id="n42-8" href="#BL" x="357.7"/></g>
<g id="r43" transform="translate(0,2184)"><use id="n43-1" href="#KR"/><use id="n43-2" href="#YR" x="51.1"/><use id="n43-3" href="#KR" x="102.2"/><use id="n43-4" href="#YR" x="153.3"/><use id="n43-5" href="#BR" x="204.4"/><use id="n43-6" href="#BR" x="255.5"/><use id="n43-7" href="#BR" x="306.6"/><use id="n43-8" href="#BR" x="357.7"/></g>
<g id="r44" transform="translate(0,2236)"><use id="n44-1" href="#YL"/><use id="n44-2" href="#KL" x="51.1"/><use id="n44-3" href="#YL" x="102.2"/><use id="n44-4" href="#KL" x="153.3"/><use id="n44-5" href="#BL" x="204.4"/><use id="n44-6" href="#BL" x="255.5"/><use id="n44-7" href="#BL" x="306.6"/><use id="n44-8" href="#BL" x="357.7"/></g>
<g id="r45" transform="translate(0,2288)"><use id="n45-1" href="#PR"/><use id="n45-2" href="#PR" x="51.1"/><use id="n45-3" href="#PR" x="102.2"/><use id="n45-4" href="#PR" x="153.3"/><use id="n45-5" href="#YR" x="204.4"/><use id="n45-6" href="#YR" x="255.5"/><use id="n45-7" href="#YR" x="306.6"/><use id="n45-8" href="#YR" x="357.7"/></g>
<g id="r46" transform="translate(0,2340)"><use id="n46-1" href="#PL"/><use id="n46-2" href="#PL" x="51.1"/><use id="n46-3" href="#PL" x="102.2"/><use id="n46-4" href="#PL" x="153.3"/><use id="n46-5" href="#YL" x="204.4"/><use id="n46-6" href="#YL" x="255.5"/><use id="n46-7" href="#YL" x="306.6"/><use id="n46-8" href="#YL" x="357.7"/></g>
<g id="r47" transform="translate(0,2392)"><use id="n47-1" href="#PR"/><use id="n47-2" href="#PR" x="51.1"/><use id="n47-3" href="#PR" x="102.2"/><use id="n47-4" href="#PR" x="153.3"/><use id="n47-5" href="#YR" x="204.4"/><use id="n47-6" href="#YR" x="255.5"/><use id="n47-7" href="#YR" x="306.6"/><use id="n47-8" href="#YR" x="357.7"/></g>
<g id="r48" transform="translate(0,2444)"><use id="n48-1" href="#PL"/><use id="n48-2" href="#PL" x="51.1"/><use id="n48-3" href="#PL" x="102.2"/><use id="n48-4" href="#PL" x="153.3"/><use id="n48-5" href="#YL" x="204.4"/><use id="n48-6" href="#YL" x="255.5"/><use id="n48-7" href="#YL" x="306.6"/><use id="n48-8" href="#YL" x="357.7"/></g>
<g id="r49" transform="translate(0,2496)"><use id="n49-1" href="#KR"/><use id="n49-2" href="#KR" x="51.1"/><use id="n49-3" href="#KR" x="102.2"/><use id="n49-4" href="#KR" x="153.3"/><use id="n49-5" href="#GR" x="204.4"/><use id="n49-6" href="#GR" x="255.5"/><use id="n49-7" href="#GR" x="306.6"/><use id="n49-8" href="#GR" x="357.7"/></g>
<g id="r50" transform="translate(0,2548)"><use id="n50-1" href="#KL"/><use id="n50-2" href="#KL" x="51.1"/><use id="n50-3" href="#KL" x="102.2"/><use id="n50-4" href="#KL" x="153.3"/><use id="n50-5" href="#GL" x="204.4"/><use id="n50-6" href="#GL" x="255.5"/><use id="n50-7" href="#GL" x="306.6"/><use id="n50-8" href="#GL" x="357.7"/></g>
<g id="r51" transform="translate(0,2600)"><use id="n51-1" href="#KR"/><use id="n51-2" href="#KR" x="51.1"/><use id="n51-3" href="#KR" x="102.2"/><use id="n51-4" href="#KR" x="153.3"/><use id="n51-5" href="#GR" x="204.4"/><use id="n51-6" href="#GR" x="255.5"/><use id="n51-7" href="#GR" x="306.6"/><use id="n51-8" href="#GR" x="357.7"/></g>
<g id="r52" transform="translate(0,2652)"><use id="n52-1" href="#KL"/><use id="n52-2" href="#KL" x="51.1"/><use id="n52-3" href="#KL" x="102.2"/><use id="n52-4" href="#KL" x="153.3"/><use id="n52-5" href="#GL" x="204.4"/><use id="n52-6" href="#GL" x="255.5"/><use id="n52-7" href="#GL" x="306.6"/><use id="n52-8" href="#GL" x="357.7"/></g>
<g id="r53" transform="translate(0,2704)"><use id="n53-1" href="#BR"/><use id="n53-2" href="#BR" x="51.1"/><use id="n53-3" href="#BR" x="102.2"/><use id="n53-4" href="#BR" x="153.3"/><use id="n53-5" href="#KR" x="204.4"/><use id="n53-6" href="#YR" x="255.5"/><use id="n53-7" href="#KR" x="306.6"/><use id="n53-8" href="#YR" x="357.7"/></g>
<g id="r54" transform="translate(0,2756)"><use id="n54-1" href="#BL"/><use id="n54-2" href="#BL" x="51.1"/><use id="n54-3" href="#BL" x="102.2"/><use id="n54-4" href="#BL" x="153.3"/><use id="n54-5" href="#YL" x="204.4"/><use id="n54-6" href="#KL" x="255.5"/><use id="n54-7" href="#YL" x="306.6"/><use id="n54-8" href="#KL" x="357.7"/></g>
<g id="r55" transform="translate(0,2808)"><use id="n55-1" href="#BR"/><use id="n55-2" href="#BR" x="51.1"/><use id="n55-3" href="#BR" x="102.2"/><use id="n55-4" href="#BR" x="153.3"/><use id="n55-5" href="#KR" x="204.4"/><use id="n55-6" href="#YR" x="255.5"/><use id="n55-7" href="#KR" x="306.6"/><use id="n55-8" href="#YR" x="357.7"/></g>
<g id="r56" transform="translate(0,2860)"><use id="n56-1" href="#BL"/><use id="n56-2" href="#BL" x="51.1"/><use id="n56-3" href="#BL" x="102.2"/><use id="n56-4" href="#BL" x="153.3"/><use id="n56-5" href="#YL" x="204.4"/><use id="n56-6" href="#KL" x="255.5"/><use id="n56-7" href="#YL" x="306.6"/><use id="n56-8" href="#KL" x="357.7"/></g>
<g id="r57" transform="translate(0,2912)"><use id="n57-1" href="#YR"/><use id="n57-2" href="#YR" x="51.1"/><use id="n57-3" href="#YR" x="102.2"/><use id="n57-4" href="#YR" x="153.3"/><use id="n57-5" href="#KR" x="204.4"/><use id="n57-6" href="#KR" x="255.5"/><use id="n57-7" href="#KR" x="306.6"/><use id="n57-8" href="#KR" x="357.7"/></g>
<g id="r58" transform="translate(0,2964)"><use id="n58-1" href="#YL"/><use id="n58-2" href="#YL" x="51.1"/><use id="n58-3" href="#YL" x="102.2"/><use id="n58-4" href="#YL" x="153.3"/><use id="n58-5" href="#KL" x="204.4"/><use id="n58-6" href="#KL" x="255.5"/><use id="n58-7" href="#KL" x="306.6"/><use id="n58-8" href="#KL" x="357.7"/></g>
<g id="r59" transform="translate(0,3016)"><use id="n59-1" href="#YR"/><use id="n59-2" href="#YR" x="51.1"/><use id="n59-3" href="#YR" x="102.2"/><use id="n59-4" href="#YR" x="153.3"/><use id="n59-5" href="#KR" x="204.4"/><use id="n59-6" href="#KR" x="255.5"/><use id="n59-7" href="#KR" x="306.6"/><use id="n59-8" href="#KR" x="357.7"/></g>
<g id="r60" transform="translate(0,3068)"><use id="n60-1" href="#YL"/><use id="n60-2" href="#YL" x="51.1"/><use id="n60-3" href="#YL" x="102.2"/><use id="n60-4" href="#YL" x="153.3"/><use id="n60-5" href="#KL" x="204.4"/><use id="n60-6" href="#KL" x="255.5"/><use id="n60-7" href="#KL" x="306.6"/><use id="n60-8" href="#KL" x="357.7"/></g>
</g>
<g id="tabs" class="t">
<text x="-52" y="3.8" fill="#fff">A</text>
<text x="-52" y="211.8" fill="#000">D</text>
<text x="-52" y="419.8" fill="#000">C</text>
<text x="-52" y="2447.8" fill="#fff">A</text>
<text x="-52" y="2655.8" fill="#000">E</text>
<text x="-52" y="2863.8" fill="#000">C</text>
<text x="-52" y="3071.8" fill="#000">B</text>
</g>
<g id="labels" class="n">
<text class="nl" x="-62" y="4.3">1</text><text x="419.8" y="4.3">1</text>
<text class="nl" x="-62" y="56.3">2</text><text x="419.8" y="56.3">2</text>
<text class="nl" x="-62" y="108.3">3</text><text x="419.8" y="108.3">3</text>
<text class="nl" x="-62" y="160.3">4</text><text x="419.8" y="160.3">4</text>
<text class="nl" x="-62" y="212.3">5</text><text x="419.8" y="212.3">5</text>
<text class="nl" x="-62" y="264.3">6</text><text x="419.8" y="264.3">6</text>
<text class="nl" x="-62" y="316.3">7</text><text x="419.8" y="316.3">7</text>
<text class="nl" x="-62" y="368.3">8</text><text x="419.8" y="368.3">8</text>
<text class="nl" x="-62" y="420.3">9</text><text x="419.8" y="420.3">9</text>
<text class="nl" x="-62" y="472.3">10</text><text x="419.8" y="472.3">10</text>
<text class="nl" x="-62" y="524.3">11</text><text x="419.8" y="524.3">11</text>
<text class="nl" x="-62" y="576.3">12</text><text x="419.8" y="576.3">12</text>
<text class="nl" x="-62" y="628.3">13</text><text x="419.8" y="628.3">13</text>
<text class="nl" x="-62" y="680.3">14</text><text x="419.8" y="680.3">14</text>
<text class="nl" x="-62" y="732.3">15</text><text x="419.8" y="732.3">15</text>
<text class="nl" x="-62" y="784.3">16</text><text x="419.8" y="784.3">16</text>
<text class="nl" x="-62" y="836.3">17</text><text x="419.8" y="836.3">17</text>
<text class="nl" x="-62" y="888.3">18</text><text x="419.8" y="888.3">18</text>
<text class="nl" x="-62" y="940.3">19</text><text x="419.8" y="940.3">19</text>
<text class="nl" x="-62" y="992.3">20</text><text x="419.8" y="992.3">20</text>
<text class="nl" x="-62" y="1044.3">21</text><text x="419.8" y="1044.3">21</text>
<text class="nl" x="-62" y="1096.3">22</text><text x="419.8" y="1096.3">22</text>
<text class="nl" x="-62" y="1148.3">23</text><text x="419.8" y="1148.3">23</text>
<text class="nl" x="-62" y="1200.3">24</text><text x="419.8" y="1200.3">24</text>
<text class="nl" x="-62" y="1252.3">25</text><text x="419.8" y="1252.3">25</text>
<text class="nl" x="-62" y="1304.3">26</text><text x="419.8" y="1304.3">26</text>
<text class="nl" x="-62" y="1356.3">27</text><text x="419.8" y="1356.3">27</text>
<text class="nl" x="-62" y="1408.3">28</text><text x="419.8" y="1408.3">28</text>
<text class="nl" x="-62" y="1460.3">29</text><text x="419.8" y="1460.3">29</text>
<text class="nl" x="-62" y="1512.3">30</text><text x="419.8" y="1512.3">30</text>
<text class="nl" x="-62" y="1564.3">31</text><text x="419.8" y="1564.3">31</text>
<text class="nl" x="-62" y="1616.3">32</text><text x="419.8" y="1616.3">32</text>
<text class="nl" x="-62" y="1668.3">33</text><text x="419.8" y="1668.3">33</text>
<text class="nl" x="-62" y="1720.3">34</text><text x="419.8" y="1720.3">34</text>
<text class="nl" x="-62" y="1772.3">35</text><text x="419.8" y="1772.3">35</text>
<text class="nl" x="-62" y="1824.3">36</text><text x="419.8" y="1824.3">36</text>
<text class="nl" x="-62" y="1876.3">37</text><text x="419.8" y="1876.3">37</text>
<text class="nl" x="-62" y="1928.3">38</text><text x="419.8" y="1928.3">38</text>
<text class="nl" x="-62" y="1980.3">39</text><text x="419.8" y="1980.3">39</text>
<text class="nl" x="-62" y="2032.3">40</text><text x="419.8" y="2032.3">40</text>
<text class="nl" x="-62" y="2084.3">41</text><text x="419.8" y="2084.3">41</text>
<text class="nl" x="-62" y="2136.3">42</text><text x="419.8" y="2136.3">42</text>
<text class="nl" x="-62" y="2188.3">43</text><text x="419.8" y="2188.3">43</text>
<text class="nl" x="-62" y="2240.3">44</text><text x="419.8" y="2240.3">44</text>
<text class="nl" x="-62" y="2292.3">45</text><text x="419.8" y="2292.3">45</text>
<text class="nl" x="-62" y="2344.3">46</text><text x="419.8" y="2344.3">46</text>
<text class="nl" x="-62" y="2396.3">47</text><text x="419.8" y="2396.3">47</text>
<text class="nl" x="-62" y="2448.3">48</text><text x="419.8" y="2448.3">48</text>
<text class="nl" x="-62" y="2500.3">49</text><text x="419.8" y="2500.3">49</text>
<text class="nl" x="-62" y="2552.3">50</text><text x="419.8" y="2552.3">50</text>
<text class="nl" x="-62" y="2604.3">51</text><text x="419.8" y="2604.3">51</text>
<text class="nl" x="-62" y="2656.3">52</text><text x="419.8" y="2656.3">52</text>
<text class="nl" x="-62" y="2708.3">53</text><text x="419.8" y="2708.3">53</text>
<text class="nl" x="-62" y="2760.3">54</text><text x="419.8" y="2760.3">54</text>
<text class="nl" x="-62" y="2812.3">55</text><text x="419.8" y="2812.3">55</text>
<text class="nl" x="-62" y="2864.3">56</text><text x="419.8" y="2864.3">56</text>
<text class="nl" x="-62" y="2916.3">57</text><text x="419.8" y="2916.3">57</text>
<text class="nl" x="-62" y="2968.3">58</text><text x="419.8" y="2968.3">58</text>
<text class="nl" x="-62" y="3020.3">59</text><text x="419.8" y="3020.3">59</text>
<text class="nl" x="-62" y="3072.3">60</text><text x="419.8" y="3072.3">60</text>
</g>
<text id="watermark" class="wm" x="179.2" y="1538.8">BRACELETBOOK.COM</text>
</g>
</svg>
